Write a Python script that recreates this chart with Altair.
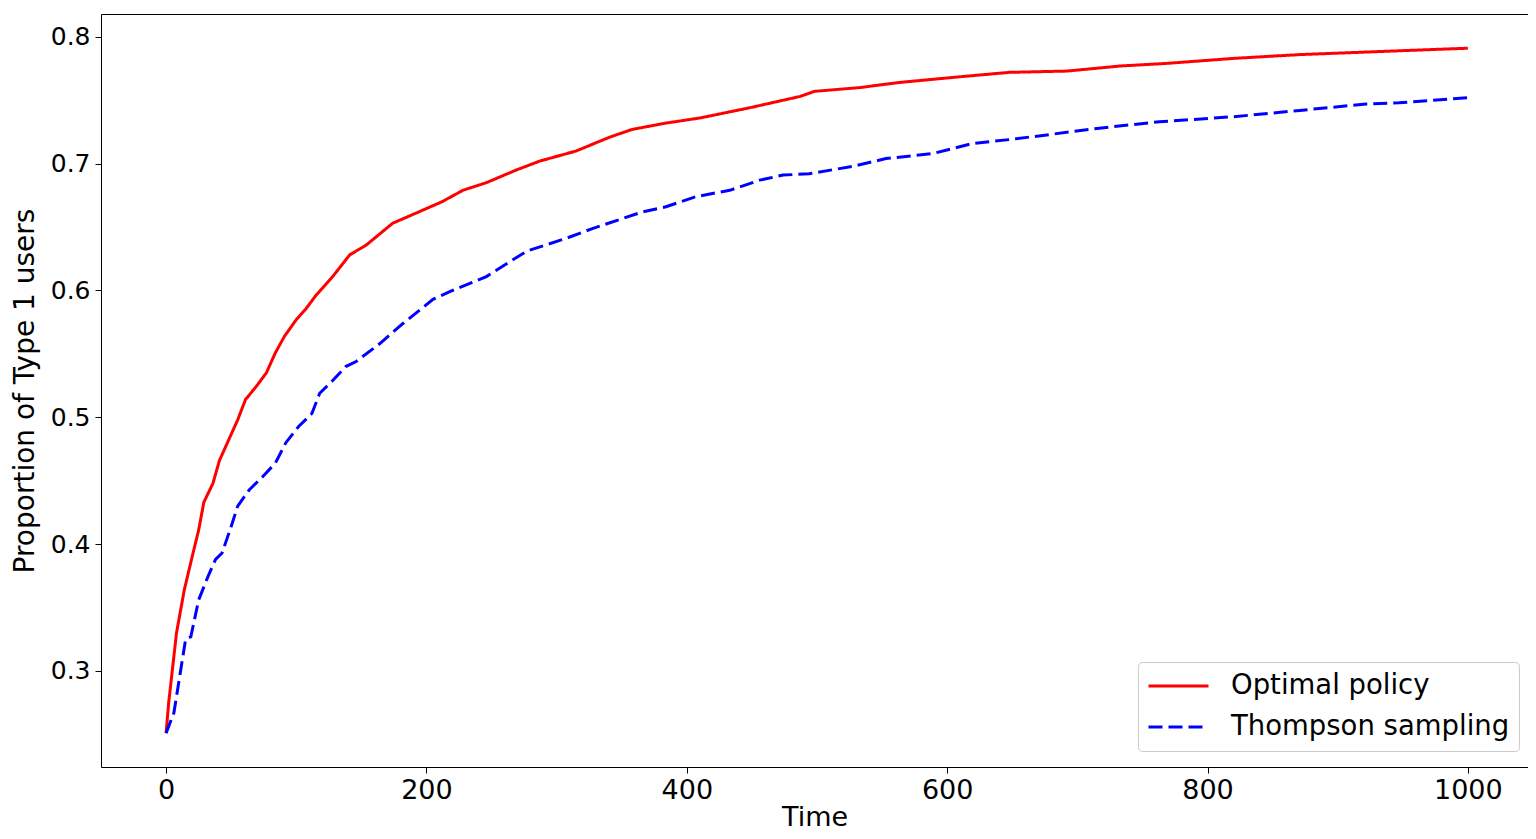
import altair as alt
import pandas as pd

t_opt = [0, 2, 8, 14, 20, 25, 29, 36, 41, 48, 55, 61, 69, 77, 84, 91, 100, 107, 115, 128,
         141, 154, 174, 192, 212, 228, 246, 269, 287, 315, 341, 358, 384, 410, 448, 487,
         498, 533, 563, 615, 648, 692, 733, 768, 820, 871, 922, 973, 1000]
v_opt = [0.251, 0.275, 0.330, 0.364, 0.390, 0.411, 0.433, 0.448, 0.466, 0.482, 0.498, 0.514,
         0.524, 0.535, 0.551, 0.564, 0.577, 0.585, 0.596, 0.611, 0.628, 0.636, 0.653, 0.661,
         0.670, 0.679, 0.685, 0.695, 0.702, 0.710, 0.721, 0.727, 0.732, 0.736, 0.744, 0.753,
         0.757, 0.760, 0.764, 0.769, 0.772, 0.773, 0.777, 0.779, 0.783, 0.786, 0.788, 0.790,
         0.791]

t_ts = [0, 6, 15, 19, 25, 32, 38, 43, 50, 55, 64, 74, 84, 92, 102, 112, 118, 128, 138, 146,
        164, 182, 205, 220, 246, 277, 307, 328, 366, 384, 407, 433, 456, 474, 494, 528, 553,
        589, 620, 648, 679, 717, 763, 820, 871, 922, 947, 1000]
v_ts = [0.251, 0.267, 0.325, 0.327, 0.356, 0.374, 0.388, 0.393, 0.414, 0.430, 0.443, 0.453,
        0.464, 0.480, 0.493, 0.503, 0.519, 0.529, 0.540, 0.544, 0.558, 0.574, 0.593, 0.600,
        0.611, 0.631, 0.641, 0.649, 0.662, 0.666, 0.674, 0.679, 0.687, 0.691, 0.692, 0.698,
        0.704, 0.708, 0.716, 0.719, 0.723, 0.728, 0.733, 0.737, 0.742, 0.747, 0.748, 0.752]

x_ticks = [0, 200, 400, 600, 800, 1000]
y_ticks = [0.3, 0.4, 0.5, 0.6, 0.7, 0.8]

series_names = ["Optimal policy", "Thompson sampling"]
series_colors = ["#ff0000", "#0000ff"]

df = pd.concat([
    pd.DataFrame({"Time": t_opt, "value": v_opt, "series": series_names[0], "order": range(len(t_opt))}),
    pd.DataFrame({"Time": t_ts, "value": v_ts, "series": series_names[1], "order": range(len(t_ts))}),
])

FONT = "DejaVu Sans"

xscale = alt.Scale(domain=[-50, 1046.2], nice=False, zero=False)
yscale = alt.Scale(domain=[0.2243, 0.818], nice=False, zero=False)

common_axis = dict(grid=False, labelFont=FONT, titleFont=FONT, titleFontWeight="normal",
                   domainColor="black", tickColor="black", labelColor="black",
                   titleColor="black", domainWidth=1, tickWidth=1)

lines = alt.Chart(df).mark_line(strokeWidth=3).encode(
    x=alt.X("Time:Q", scale=xscale,
            axis=alt.Axis(values=x_ticks, format="d", title="Time",
                          labelFontSize=27, titleFontSize=27, tickSize=6, labelPadding=4,
                          titleBaseline="bottom", titleY=64, **common_axis)),
    y=alt.Y("value:Q", scale=yscale,
            axis=alt.Axis(values=y_ticks, format=".1f",
                          title="Proportion of Type 1 users",
                          labelFontSize=25, titleFontSize=28, tickSize=6, labelPadding=5,
                          titlePadding=11, **common_axis)),
    color=alt.Color("series:N", scale=alt.Scale(domain=series_names, range=series_colors),
                    legend=alt.Legend(title=None, orient="none", legendX=1037, legendY=648,
                                      labelFontSize=27.5, labelFont=FONT, labelColor="black",
                                      labelLimit=0, clipHeight=30,
                                      symbolType="stroke", symbolSize=3600, symbolStrokeWidth=3,
                                      labelOffset=21, padding=9, rowPadding=11,
                                      strokeColor="#cccccc", fillColor="white",
                                      cornerRadius=4)),
    strokeDash=alt.StrokeDash("series:N",
                              scale=alt.Scale(domain=series_names, range=[[1, 0], [14, 6]]),
                              legend=None),
    order="order:Q",
)

frame = alt.Chart(df).mark_point(opacity=0).encode(
    x=alt.X("Time:Q", scale=xscale,
            axis=alt.Axis(orient="top", labels=False, ticks=False, title=None, grid=False,
                          domainColor="black", domainWidth=1)),
    y=alt.Y("value:Q", scale=yscale,
            axis=alt.Axis(orient="right", labels=False, ticks=False, title=None, grid=False,
                          domainColor="black", domainWidth=1)),
)

chart = alt.layer(lines, frame).resolve_axis(x="independent", y="independent").properties(
    width=1427, height=753,
    autosize=alt.AutoSizeParams(type="none"),
    padding={"left": 93, "top": 6, "right": 0, "bottom": 64},
).configure_view(stroke=None).configure(background="white")

chart.save("out.html", embed_options={"renderer": "svg", "actions": False})
